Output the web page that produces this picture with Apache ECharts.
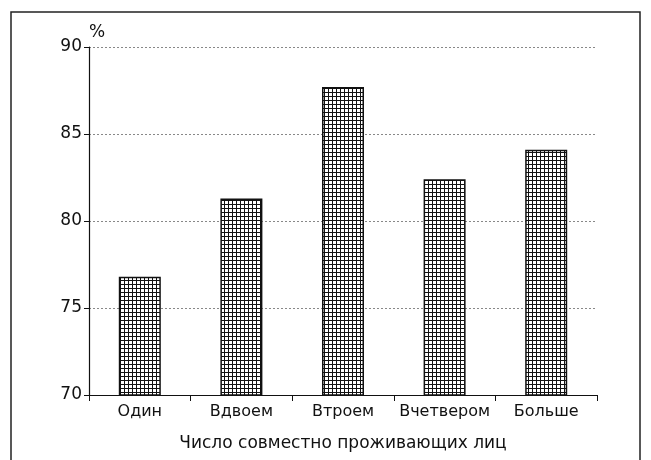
<!DOCTYPE html>
<html lang="ru">
<head>
<meta charset="UTF-8">
<title>Число совместно проживающих лиц</title>
<script src="https://cdn.jsdelivr.net/npm/echarts@6/dist/echarts.min.js"></script>
<style>
  html, body { margin: 0; padding: 0; background: #fff; }
  #main { width: 651px; height: 460px; }
</style>
</head>
<body>
<div id="main"></div>
<script>
var categories = ['Один', 'Вдвоем', 'Втроем', 'Вчетвером', 'Больше'];
var values = [76.8, 81.3, 87.7, 82.4, 84.1];
var yTicks = [70, 75, 80, 85, 90];

// клетчатая заливка столбцов
function makeHatch() {
    var c = document.createElement('canvas');
    c.width = 4; c.height = 4;
    var ctx = c.getContext('2d');
    ctx.fillStyle = '#fff';
    ctx.fillRect(0, 0, 4, 4);
    ctx.fillStyle = '#111';
    ctx.fillRect(0, 0, 4, 1);
    ctx.fillRect(0, 0, 1, 4);
    return c;
}

var myChart = echarts.init(document.getElementById('main'));
var font = '"DejaVu Sans", sans-serif';

myChart.setOption({
    animation: false,
    backgroundColor: '#fff',
    textStyle: {fontFamily: font},
    graphic: [{
        type: 'rect',
        shape: {x: 11, y: 12, width: 629, height: 470},
        style: {fill: 'none', stroke: '#222', lineWidth: 1.5}
    }],
    grid: {left: 89, right: 54, top: 47, bottom: 65},
    xAxis: {
        type: 'category',
        data: categories,
        name: 'Число совместно проживающих лиц',
        nameLocation: 'middle',
        nameGap: 40,
        nameTextStyle: {color: '#111', fontSize: 17, fontFamily: font},
        axisLine: {lineStyle: {color: '#111', width: 1.2}},
        axisTick: {show: true, interval: 0, length: 6, lineStyle: {color: '#111'}},
        axisLabel: {color: '#111', fontSize: 16, margin: 9, interval: 0, fontFamily: font}
    },
    yAxis: {
        type: 'value',
        min: yTicks[0],
        max: yTicks[yTicks.length - 1],
        interval: 5,
        name: '%',
        nameGap: 6,
        nameTextStyle: {color: '#111', fontSize: 17, align: 'left', padding: [0, 0, 0, 0]},
        axisLine: {show: true, lineStyle: {color: '#111', width: 1.2}},
        axisTick: {show: true, length: 5, lineStyle: {color: '#111'}},
        axisLabel: {color: '#111', fontSize: 17, margin: 7, fontFamily: font},
        splitLine: {lineStyle: {color: '#888', type: [2, 2], width: 1}}
    },
    series: [{
        type: 'bar',
        data: values,
        barWidth: 42,
        itemStyle: {
            color: {image: makeHatch(), repeat: 'repeat'},
            borderColor: '#111',
            borderWidth: 1.5
        }
    }]
});
</script>
</body>
</html>
